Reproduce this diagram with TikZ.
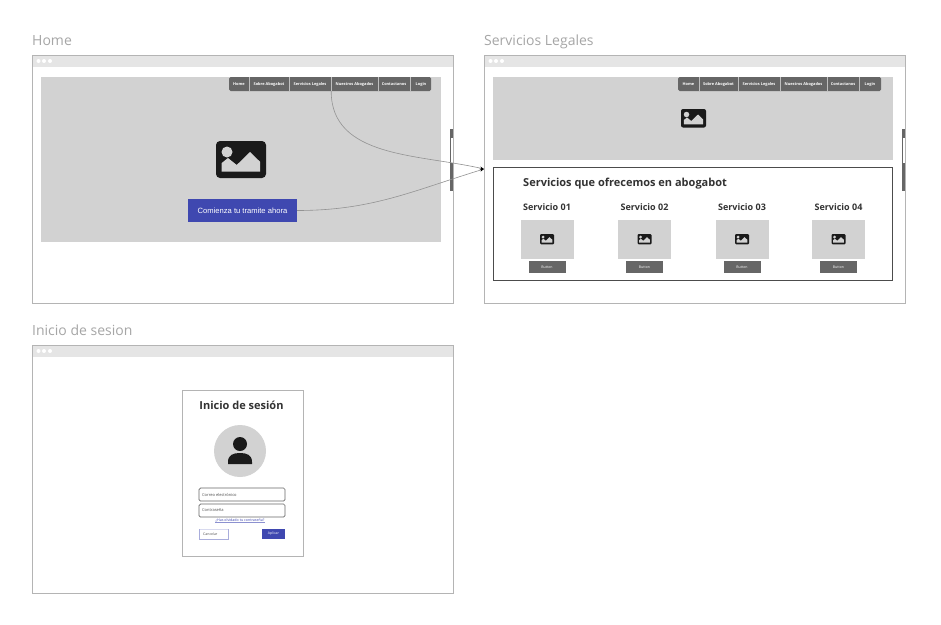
\documentclass[tikz,border=0pt]{standalone}
\usepackage{fontspec}
\setmainfont{Open Sans}
\newfontfamily\arialfont{Liberation Sans}
\usetikzlibrary{arrows.meta}

\definecolor{marco}{HTML}{B4B4B4}
\definecolor{barra}{HTML}{E5E5E5}
\definecolor{relleno}{HTML}{D2D2D2}
\definecolor{oscuro}{HTML}{666666}
\definecolor{icono}{HTML}{1A1A1A}
\definecolor{azul}{HTML}{3F48B0}

\tikzset{
    ventana/.style={draw=marco,fill=white,line width=0.9pt},
    titulo/.style={anchor=base west,inner sep=0pt,text=gray!70,font=\fontsize{14}{14}\selectfont},
    navtxt/.style={text=white,inner sep=0pt,minimum height=14pt,text height=3pt,text depth=1pt,font=\bfseries\fontsize{3.9}{4}\selectfont},
    navsep/.style={draw=white!75!black,line width=0.5pt},
    cabecera/.style={text=black!80,inner sep=0pt,font=\bfseries\fontsize{9}{9}\selectfont},
    boton/.style={fill=oscuro,text=white,inner sep=0pt,minimum width=37pt,minimum height=12pt,font=\fontsize{3.5}{4}\selectfont},
    campo/.style={draw=oscuro,fill=white,rounded corners=1.5pt,line width=0.7pt,minimum width=86pt,minimum height=13pt,inner sep=0pt},
    flecha/.style={draw=gray!85,line width=0.6pt,-{Stealth[length=4pt,width=3pt,color=black]}}
}

% icono de imagen: esquina superior izquierda y escala
\newcommand{\imagen}[2]{
    \begin{scope}[shift={#1},scale=#2]
        \fill[icono,rounded corners=#2*4pt] (0,0) rectangle (50,37);
        \fill[relleno] (11,11) circle (5.5);
        \fill[relleno] (5.7,30.7) -- (5.7,22) -- (12,17) -- (20.7,24) -- (34,11) -- (44,20.7) -- (44,30.7) -- cycle;
    \end{scope}
}

% cabecera de la ventana con sus tres puntos
\newcommand{\ventana}[4]{
    \node[ventana,minimum width=421pt,minimum height=248pt,inner sep=0pt,anchor=north west] (#4) at (#1,#2) {};
    \fill[barra] (#1+0.5,#2+0.5) rectangle (#1+420.5,#2+12);
    \foreach \d in {6.5,12,18}
        \fill[white] (#1+\d,#2+6) circle (2);
    \node[titulo] at (#1,#2-10) {#3};
}

\begin{document}
\begin{tikzpicture}[x=1pt,y=-1pt]
    \useasboundingbox[fill=white] (0,0) rectangle (941,624);

    \ventana{32}{55}{Home}{home}
    \ventana{484}{55}{Servicios Legales}{legales}
    \ventana{32}{345}{Inicio de sesion}{inicio}

    % Home
    \fill[relleno] (41,77) rectangle (441,242);
    \fill[oscuro,rounded corners=1.5pt] (229,77) rectangle (431,91);
    \foreach \cx/\w/\txt/\nom in {239/20/Home/home, 269/40/Sobre Abogabot/sobre, 310/42/Servicios Legales/serv, 354.5/47/Nuestros Abogados/nuestros, 394/32/Contactanos/contacto, 421/21/Login/login}
        \node[navtxt,minimum width=\w pt] (a\nom) at (\cx,84) {\txt};
    \foreach \nom in {home,sobre,serv,nuestros,contacto}
        \draw[navsep] (a\nom.north east) -- (a\nom.south east);
    \imagen{(216,141)}{1}
    \node[fill=azul,text=white,inner sep=0pt,minimum width=109pt,minimum height=23pt,font=\arialfont\fontsize{7.6}{8}\selectfont] (comienza) at (242.5,210.5) {Comienza tu tramite ahora};
    \fill[oscuro] (450,129) rectangle (453,191);
    \fill[white] (451,138) rectangle (452.6,163);

    % Servicios Legales
    \fill[relleno] (493,77) rectangle (893,160);
    \fill[oscuro,rounded corners=1.5pt] (678,77) rectangle (881,91);
    \foreach \cx/\w/\txt/\nom in {688.5/21/Home/home, 718.5/39/Sobre Abogabot/sobre, 759/42/Servicios Legales/serv, 803.5/47/Nuestros Abogados/nuestros, 843/32/Contactanos/contacto, 870/22/Login/login}
        \node[navtxt,minimum width=\w pt] (b\nom) at (\cx,84) {\txt};
    \foreach \nom in {home,sobre,serv,nuestros,contacto}
        \draw[navsep] (b\nom.north east) -- (b\nom.south east);
    \imagen{(681,109)}{0.5}
    \fill[oscuro] (902,129) rectangle (905,191);
    \fill[white] (903,138) rectangle (904.6,163);

    \draw[black!70,line width=0.8pt] (493.5,167.5) rectangle (892.5,280.5);
    \node[anchor=west,inner sep=0pt,text=black!80,font=\bfseries\fontsize{11}{11}\selectfont] (ofrecemos) at (523,184) {Servicios que ofrecemos en abogabot};
    \foreach \cx/\n in {547/01,644.5/02,742/03,838.5/04}{
        \node[cabecera] (serv\n) at (\cx,207) {Servicio \n};
        \fill[relleno] (\cx-26.5,220) rectangle (\cx+26.5,259);
        \imagen{(\cx-7,234)}{0.28}
        \node[boton] (boton\n) at (\cx,267) {Button};
    }

    % Inicio de sesion
    \node[draw=marco,fill=white,line width=1pt,minimum width=121pt,minimum height=166pt,inner sep=0pt] (tarjeta) at (242.5,473) {};
    \node[inner sep=0pt,text=black!80,font=\bfseries\fontsize{11}{11}\selectfont] (entrar) at (241.5,405.5) {Inicio de sesión};
    \fill[relleno] (240,451) circle (26);
    \fill[icono] (240,444) circle (7);
    \fill[icono] (228,462) .. controls (228,455) and (233,453) .. (240,453) .. controls (247,453) and (252,455) .. (252,462) -- (252,464) -- (228,464) -- cycle;
    \node[campo] (correo) at (242,494.5) {};
    \node[anchor=west,inner sep=0pt,text=black!70,font=\fontsize{4}{4}\selectfont] at (202,494.5) {Correo electrónico};
    \node[campo] (clave) at (242,510.5) {};
    \node[anchor=west,inner sep=0pt,text=black!70,font=\fontsize{4}{4}\selectfont] at (202,510.5) {Contraseña};
    \node[inner sep=0pt,text=azul,font=\fontsize{3.6}{4}\selectfont] (olvido) at (240,520.5) {¿Has olvidado tu contraseña?};
    \draw[azul!60,line width=0.5pt] (215,522.5) -- (265,522.5);
    \draw[azul!20,line width=0.5pt] (199.5,529) -- (228,529);
    \draw[azul!45,line width=0.6pt] (199.5,529) -- (199.5,539) -- (228,539) -- (228,529);
    \node[anchor=west,inner sep=0pt,text=black!70,font=\fontsize{3.5}{4}\selectfont] (cancelar) at (203,534) {Cancelar};
    \node[fill=azul,text=white,inner sep=0pt,minimum width=23pt,minimum height=10pt,font=\fontsize{3.5}{4}\selectfont] (aplicar) at (273.5,534) {Aplicar};

    % enlaces entre pantallas
    \coordinate (llegada) at (484,169);
    \draw[flecha] (aserv.south east) to[out=-90,in=167] (llegada);
    \draw[flecha] (comienza.east) to[out=0,in=197] (llegada);
\end{tikzpicture}
\end{document}
